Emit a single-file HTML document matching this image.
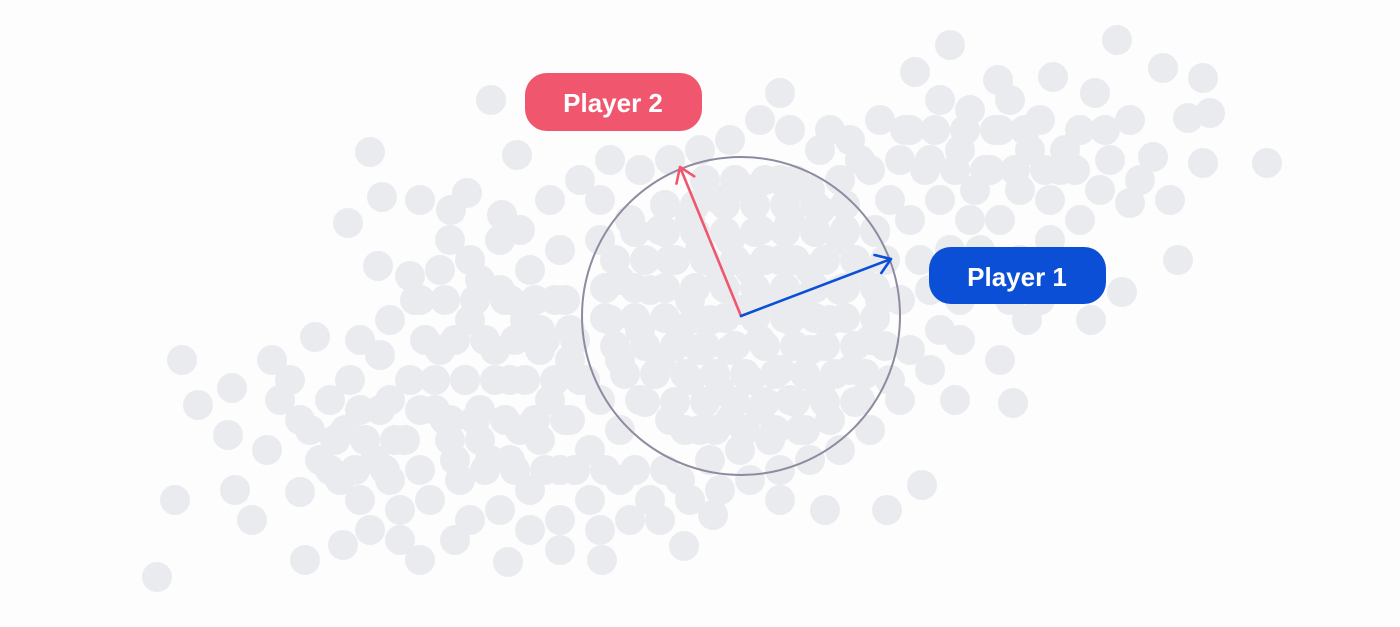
<!DOCTYPE html>
<html><head><meta charset="utf-8"><style>
html,body{margin:0;padding:0;background:#fdfdfd;}
svg{display:block;}
text{font-family:"Liberation Sans",sans-serif;font-weight:bold;}
</style></head><body>
<svg id="chart" width="1400" height="627" viewBox="0 0 1400 627">
<rect width="1400" height="627" fill="#fdfdfd"/>
<g id="dots"></g>
<circle cx="741" cy="316" r="159" fill="none" stroke="#8e8aa0" stroke-width="2"/>
<g id="arrows"></g>
<g>
<rect x="525" y="73" width="177" height="58" rx="22" fill="#f0566e"/>
<text x="613" y="112" fill="#fff" font-size="26" text-anchor="middle">Player 2</text>
</g>
<g>
<rect x="929" y="247" width="177" height="57" rx="22" fill="#0b4fd6"/>
<text x="1017" y="286" fill="#fff" font-size="26" text-anchor="middle">Player 1</text>
</g>
</svg>
<script>
const xs = [950,1117,915,1163,1203,998,1053,780,491,1095,1210,1188,1267,1153,1203,370,517,382,348,467,451,502,1130,1178,1122,1091,1027,1000,1013,955,182,232,198,228,267,175,235,252,300,157,305,343,420,455,508,602,684,780,825,887,922,713,272,315,378,410,380,
350,380,410,440,470,500,530,560,345,375,405,435,465,495,525,555,330,360,390,420,450,480,510,540,570,400,430,460,490,520,550,580,470,500,530,560,590,620,440,470,500,420,390,360,330,300,290,320,560,590,620,650,680,710,740,770,800,830,860,890,910,940,960,990,1020,1050,1080,1100,1060,1030,1000,970,940,910,880,850,820,790,760,730,700,670,640,610,580,550,520,600,630,660,690,720,750,780,810,840,870,900,930,960,990,1020,1050,940,970,1000,910,920,950,980,1040,1070,930,900,600,620,610,620,640,670,700,730,760,790,820,850,870,880,860,840,820,790,760,730,700,670,650,640,660,690,720,750,780,810,830,840,810,780,750,720,690,680,700,730,760,790,800,770,740,710,600,570,540,510,480,450,420,390,360,1010,960,930,900,870,840,810,780,750,720,690,660,630,600,420,450,480,510,540,570,310,280,340,370,400,530,560,1080,1110,1140,1170,1040,1010,1130,860,890,830,
705,735,765,795,665,695,725,755,785,815,845,635,665,695,725,755,785,815,845,875,615,645,675,705,735,765,795,825,855,885,605,635,665,695,725,755,785,815,845,875,605,635,665,695,725,755,785,815,845,875,615,645,675,705,735,765,795,825,855,885,625,655,685,715,745,775,805,835,865,645,675,705,735,765,795,825,855,685,715,745,775,805,
415,445,475,505,535,565,425,455,485,515,545,575,435,465,495,525,555,585,445,475,505,535,565,395,365,335,385,355,455,485,515,545,575,605,635,665,905,935,965,995,1025,925,955,985,1015,1045,1075,875,845,815,1105,1065,975];
const ys = [45,40,72,68,78,80,77,93,100,93,113,118,163,157,163,152,155,197,223,193,210,215,203,260,292,320,320,360,403,400,360,388,405,435,450,500,490,520,492,577,560,545,560,540,562,560,546,500,510,510,485,515,360,337,266,276,355,
380,410,380,350,320,290,270,250,430,460,440,410,380,350,320,300,470,500,480,470,440,410,380,350,330,510,500,480,460,430,400,380,520,510,490,470,450,430,270,260,240,300,320,340,400,420,380,460,520,500,480,500,480,460,450,440,430,420,400,380,350,330,300,280,260,240,220,190,170,150,130,110,100,130,120,140,150,130,120,140,150,160,170,160,180,200,230,200,220,230,220,200,190,180,190,180,170,160,160,150,170,190,200,200,220,220,220,260,250,250,300,270,290,300,240,280,320,360,400,420,430,420,410,400,390,370,340,300,270,240,210,220,230,240,250,260,290,330,360,380,390,380,370,350,320,290,270,260,270,280,300,330,350,350,340,320,300,300,310,320,400,420,440,460,440,420,410,400,410,300,340,370,400,430,450,460,470,480,490,500,520,520,530,200,240,280,300,330,360,430,400,480,530,540,530,550,130,160,180,200,120,100,120,160,200,130,
180,180,180,180,205,205,205,205,205,205,205,232,232,232,232,232,232,232,232,232,260,260,260,260,260,260,260,260,260,260,288,288,288,288,288,288,288,288,288,288,318,318,318,318,318,318,318,318,318,318,346,346,346,346,346,346,346,346,346,346,374,374,374,374,374,374,374,374,374,402,402,402,402,402,402,402,402,430,430,430,430,430,
300,300,300,300,300,300,340,340,340,340,340,340,380,380,380,380,380,380,420,420,420,420,420,440,440,440,470,470,460,470,470,470,470,470,470,470,130,130,130,130,130,170,170,170,170,170,170,230,230,230,130,150,190];
const NS='http://www.w3.org/2000/svg';
const g=document.getElementById('dots');
for(let i=0;i<xs.length;i++){
  const c=document.createElementNS(NS,'circle');
  c.setAttribute('cx',xs[i]);c.setAttribute('cy',ys[i]);c.setAttribute('r',15);
  c.setAttribute('fill','#e9ebef');
  
  
  g.appendChild(c);
}
const ax=document.getElementById('arrows');
function arrow(x2,y2,col,name){
  const x1=741,y1=316;
  const l=document.createElementNS(NS,'path');
  const a=Math.atan2(y2-y1,x2-x1),h=17,s=0.6;
  const d=`M${x1},${y1}L${x2},${y2}M${x2-h*Math.cos(a-s)},${y2-h*Math.sin(a-s)}L${x2},${y2}L${x2-h*Math.cos(a+s)},${y2-h*Math.sin(a+s)}`;
  l.setAttribute('d',d);l.setAttribute('stroke',col);l.setAttribute('stroke-width',2.6);
  l.setAttribute('fill','none');l.setAttribute('stroke-linecap','round');l.setAttribute('stroke-linejoin','round');
  
  
  ax.appendChild(l);
}
arrow(680,167,'#f0566e','player-2-arrow');
arrow(891,259,'#0b4fd6','player-1-arrow');
</script>
</body></html>
